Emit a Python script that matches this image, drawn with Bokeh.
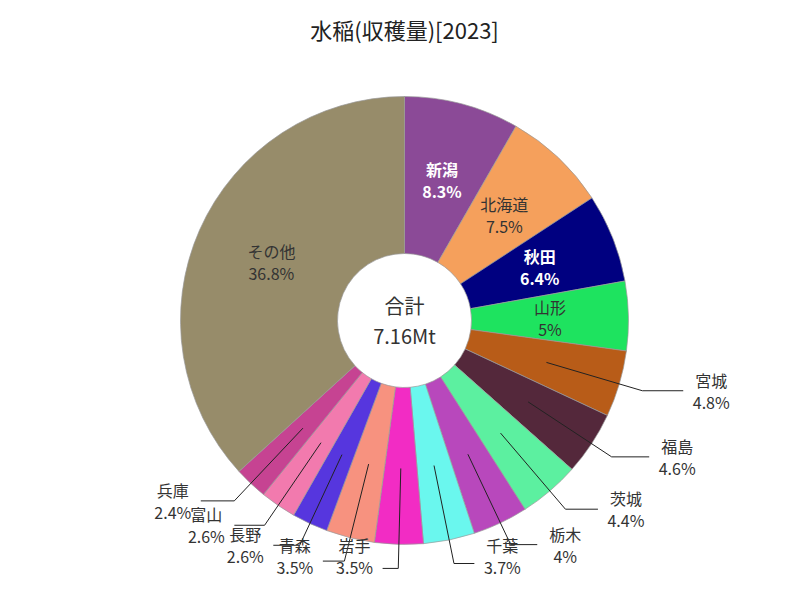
import math
from bokeh.plotting import figure
from bokeh.models import Range1d, ColumnDataSource
from bokeh.core.properties import value
from bokeh.embed import file_html
from bokeh.resources import INLINE

# ---------------- data ----------------
TITLE = "水稲(収穫量)[2023]"
NAMES = ["新潟", "北海道", "秋田", "山形", "宮城", "福島", "茨城", "栃木",
         "千葉", "岩手", "青森", "長野", "富山", "兵庫", "その他"]
PCT = [8.3, 7.5, 6.4, 5.0, 4.8, 4.6, 4.4, 4.0, 3.7, 3.5, 3.5, 2.6, 2.6, 2.4, 36.8]
COLORS = ["#8B4A97", "#F5A05C", "#000080", "#1EE35F", "#B85C18", "#54283B",
          "#5CF0A0", "#B848BC", "#6AF7EE", "#F22CC4", "#F7927F", "#5636DE",
          "#F27AAE", "#C64392", "#978C6A"]
CENTER_LABEL = "合計"
TOTAL_LABEL = "7.16Mt"

FONT = value("Noto Sans CJK JP")
DARK = "#333333"

# ---------------- layout ----------------
CX, CY = 404, 280          # centre (y measured upward)
R_OUT, R_IN = 224, 67
R_MID = (R_OUT + R_IN) / 2
R_ELBOW = R_OUT + 24
OUTSIDE_LIMIT = 5.0
MIN_TEXT_Y = 34            # keep the lowest label line inside the canvas

total = sum(PCT)
fr = [v / total for v in PCT]
cum = [0.0]
for f in fr:
    cum.append(cum[-1] + f)

start = [math.pi / 2 - 2 * math.pi * cum[i + 1] for i in range(len(fr))]
end = [math.pi / 2 - 2 * math.pi * cum[i] for i in range(len(fr))]
mid = [(s + e) / 2 for s, e in zip(start, end)]

pct_txt = [f"{v:g}%" for v in PCT]

p = figure(width=784, height=584, x_range=Range1d(0, 784), y_range=Range1d(16, 600),
           output_backend="svg", toolbar_location=None, min_border=0,
           x_axis_type=None, y_axis_type=None)
p.outline_line_color = None
p.background_fill_color = "white"
p.border_fill_color = "white"

src = ColumnDataSource(dict(start=start, end=end, color=COLORS))
p.annular_wedge(x=CX, y=CY, inner_radius=R_IN, outer_radius=R_OUT,
                start_angle="start", end_angle="end", fill_color="color",
                line_color="#9a9a9a", line_width=0.7, source=src)

# inside labels
in_x, in_y1, in_y2, in_name, in_pct, in_col, in_bold = [], [], [], [], [], [], []
# outside labels
lx, ly, ox, oy1, oy2, on, op = [], [], [], [], [], [], []
for i, a in enumerate(mid):
    if PCT[i] >= OUTSIDE_LIMIT:
        x = CX + R_MID * math.cos(a)
        y = CY + R_MID * math.sin(a)
        in_x.append(x); in_y1.append(y + 11); in_y2.append(y - 11)
        in_name.append(NAMES[i]); in_pct.append(pct_txt[i])
        dark_bg = COLORS[i] in ("#8B4A97", "#000080")
        in_col.append("white" if dark_bg else DARK)
        in_bold.append("bold" if dark_bg else "normal")
    else:
        ax = CX + 148 * math.cos(a)
        ay = CY + 148 * math.sin(a)
        ex = CX + R_ELBOW * math.cos(a)
        ey = CY + R_ELBOW * math.sin(a)
        side = 1 if math.cos(a) >= 0 else -1
        hl = 15 + 27 * abs(math.cos(a))
        endx = ex + side * hl
        lx.append([ax, ex, endx]); ly.append([ay, ey, ey])
        ty = max(ey, MIN_TEXT_Y + 11)
        ox.append(endx + side * 28); oy1.append(ty + 11); oy2.append(ty - 11)
        on.append(NAMES[i]); op.append(pct_txt[i])

p.multi_line(xs=lx, ys=ly, line_color="#222222", line_width=1)

isrc = ColumnDataSource(dict(x=in_x, y1=in_y1, y2=in_y2, n=in_name, pc=in_pct,
                             c=in_col, st=in_bold))
for ycol, tcol in (("y1", "n"), ("y2", "pc")):
    p.text(x="x", y=ycol, text=tcol, text_color="c", text_font_style="st",
           text_align="center", text_baseline="middle", text_font=FONT,
           text_font_size="16px", source=isrc)

osrc = ColumnDataSource(dict(x=ox, y1=oy1, y2=oy2, n=on, pc=op))
for ycol, tcol in (("y1", "n"), ("y2", "pc")):
    p.text(x="x", y=ycol, text=tcol, text_color=DARK,
           text_align="center", text_baseline="middle", text_font=FONT,
           text_font_size="16px", source=osrc)

# centre text
p.text(x=[CX, CX], y=[CY + 15, CY - 15], text=[CENTER_LABEL, TOTAL_LABEL],
       text_color=DARK, text_align="center", text_baseline="middle",
       text_font=FONT, text_font_size="20px")

# title
p.text(x=[CX], y=[572], text=[TITLE], text_color="#222222", text_align="center",
       text_baseline="middle", text_font=FONT, text_font_size="22px")

open("out.html", "w").write(file_html(p, INLINE))
